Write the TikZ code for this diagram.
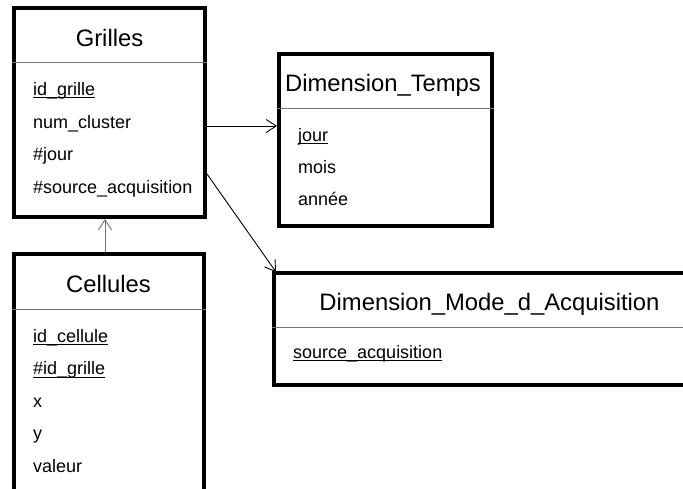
\documentclass[tikz,border=0pt]{standalone}
\usepackage{fontspec}
\setmainfont{Liberation Sans}
\usetikzlibrary{arrows.meta,calc}
\newcommand{\ulx}[1]{\setbox0\hbox{#1}\rlap{\rule[-3.1pt]{\wd0}{0.9pt}}\box0}
\tikzset{
  entity/.style={draw=black, line width=4pt, inner sep=0pt, fill=white},
  sep/.style={draw=black!55, line width=1pt},
  ttl/.style={anchor=base, inner sep=0pt, font=\fontsize{23.8}{26}\selectfont},
  attr/.style={anchor=base west, inner sep=0pt, font=\fontsize{18}{20}\selectfont},
  link/.style={draw=black, line width=0.9pt, -{Straight Barb[length=10pt,width=13pt,line width=0.9pt]}},
}
\begin{document}
\begin{tikzpicture}[x=1pt,y=-1pt]
\useasboundingbox (0,0) rectangle (683,488);
\clip (0,0) rectangle (683,488);
\fill[white] (0,0) rectangle (683,488);

% entity boxes
\node[entity, minimum width=191pt, minimum height=209pt] (grilles) at (109.5,112.5) {};
\node[entity, minimum width=190pt, minimum height=266pt] (cellules) at (109,387) {};
\node[entity, minimum width=213pt, minimum height=172pt] (temps) at (385.5,139.5) {};
\node[entity, minimum width=446pt, minimum height=112pt] (mode) at (497,329) {};

% separators
\draw[sep] (grilles.west |- 0,62) -- (grilles.east |- 0,62);
\draw[sep] (cellules.west |- 0,309) -- (cellules.east |- 0,309);
\draw[sep] (temps.west |- 0,108) -- (temps.east |- 0,108);
\draw[sep] (mode.west |- 0,327) -- (mode.east |- 0,327);

% Grilles
\node[ttl] (tg) at (109.5,46) {Grilles};
\node[attr] (g1) at (33,95) {\ulx{id\_grille}};
\node[attr] (g2) at (33,128) {num\_cluster};
\node[attr] (g3) at (33,160.5) {\#jour};
\node[attr] (g4) at (33,193) {\#source\_acquisition};

% Cellules
\node[ttl] (tc) at (108.5,292) {Cellules};
\node[attr] (c1) at (33,342) {\ulx{id\_cellule}};
\node[attr] (c2) at (33,374.5) {\ulx{\#id\_grille}};
\node[attr] (c3) at (33,407) {x};
\node[attr] (c4) at (33,439.5) {y};
\node[attr] (c5) at (33,472) {valeur};

% Dimension_Temps
\node[ttl] (tt) at (383,91) {Dimension\_Temps};
\node[attr] (t1) at (298,141) {\ulx{jour}};
\node[attr] (t2) at (298,173) {mois};
\node[attr] (t3) at (298,205) {année};

% Dimension_Mode_d_Acquisition
\node[ttl] (tm) at (489.5,310) {Dimension\_Mode\_d\_Acquisition};
\node[attr] (m1) at (293,358) {\ulx{source\_acquisition}};

% connectors
\draw[link] (grilles.east |- 0,126) -- (temps.west |- 0,126);
\draw[link] (grilles.east |- 0,174) -- ($(mode.north west)+(4,1)$);
\draw[link, draw=black!55] ([xshift=-4pt]cellules.north) -- ([xshift=-4.5pt]grilles.south);
\end{tikzpicture}
\end{document}
